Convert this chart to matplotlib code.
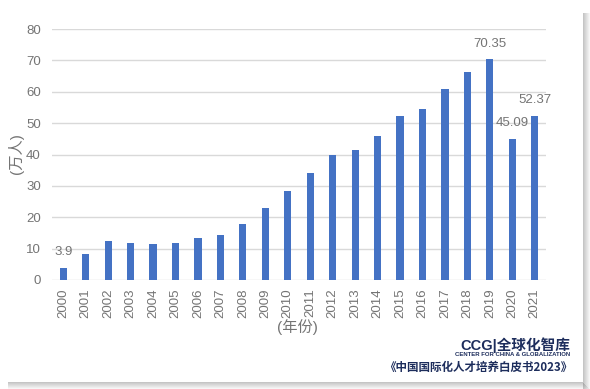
import matplotlib
matplotlib.use("Agg")
import matplotlib.pyplot as plt
from matplotlib.patches import Rectangle

plt.rcParams['font.family'] = ['Liberation Sans', 'Noto Sans CJK SC', 'DejaVu Sans']

years = [str(y) for y in range(2000, 2022)]
students = [3.9, 8.4, 12.5, 11.73, 11.47, 11.85, 13.4, 14.4, 17.98, 22.93, 28.47,
            33.97, 39.96, 41.39, 45.98, 52.37, 54.45, 60.84, 66.21, 70.35, 45.09, 52.37]
labelled = {'2000': '3.9', '2019': '70.35', '2020': '45.09', '2021': '52.37'}
yticks = [0, 10, 20, 30, 40, 50, 60, 70, 80]

W, H = 590, 389
grey = '#747474'
fig = plt.figure(figsize=(W / 100, H / 100), dpi=100)
fig.patch.set_facecolor('white')

# card shadow on right and bottom edges
card_r, card_b = 583, 382
for i in range(7):
    a = 0.4 * (1 - i / 7)
    fig.patches.append(Rectangle(((card_r + i) / W, 0), 1 / W, (H - 13) / H,
                                 transform=fig.transFigure, color='#707070',
                                 alpha=a, lw=0))
    fig.patches.append(Rectangle((8 / W, (H - card_b - 1 - i) / H), (card_r - 8 + i) / W, 1 / H,
                                 transform=fig.transFigure, color='#707070',
                                 alpha=a, lw=0))

ax = fig.add_axes([52 / W, 109 / H, 494 / W, 251 / H])
x = range(len(years))
ax.bar(x, students, width=0.32, color='#4472C4', zorder=3)
ax.set_xlim(-0.5, len(years) - 0.5)
ax.set_ylim(0, 80)
ax.set_yticks(yticks)
ax.set_xticks(list(x))
ax.set_xticklabels(years, rotation=90)
ax.grid(axis='y', color='#d9d9d9', lw=1, zorder=0)
for s in ax.spines.values():
    s.set_visible(False)
ax.tick_params(length=0, labelsize=9.5, labelcolor=grey, pad=8)
ax.tick_params(axis='x', pad=6)

for i, yr in enumerate(years):
    if yr in labelled:
        ax.annotate(labelled[yr], (i, students[i]), xytext=(0, 7), textcoords='offset points',
                    ha='center', va='bottom', fontsize=9.5, color=grey)

fig.text(16 / W, 1 - 154 / H, '(万人)', rotation=90, ha='center', va='center',
         fontsize=11, color=grey)
fig.text(297 / W, 1 - 327 / H, '(年份)', ha='center', va='center',
         fontsize=11, color=grey)

navy = '#1d2d5c'
fig.text(570 / W, 1 - 345 / H, 'CCG|全球化智库', ha='right', va='center',
         fontsize=10.5, fontweight='bold', color=navy,
         family=['Liberation Sans', 'Noto Sans CJK SC'])
fig.text(570 / W, 1 - 355 / H, 'CENTER FOR CHINA & GLOBALIZATION', ha='right', va='center',
         fontsize=4.3, fontweight='bold', color=navy,
         family=['Liberation Sans Narrow', 'Liberation Sans'])
fig.text(572 / W, 1 - 367 / H, '《中国国际化人才培养白皮书2023》', ha='right', va='center',
         fontsize=8.3, fontweight='bold', color=navy,
         family=['Noto Sans CJK SC', 'DejaVu Sans'])

fig.savefig('out.png', dpi=100)
